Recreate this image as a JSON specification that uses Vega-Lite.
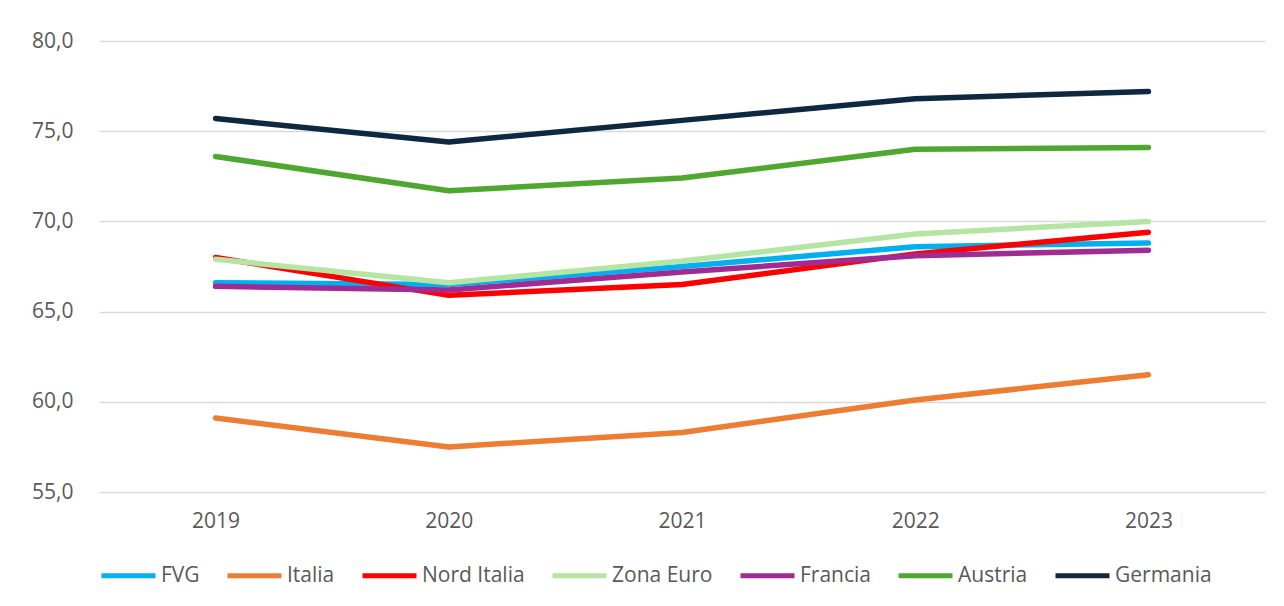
{
  "$schema": "https://vega.github.io/schema/vega-lite/v6.json",
  "width": 1166,
  "height": 451,
  "autosize": {"type": "none"},
  "padding": {"left": 99, "top": 41, "right": 19, "bottom": 114},
  "background": "white",
  "config": {
    "view": {"stroke": null},
    "font": "Open Sans",
    "axis": {"labelFont": "Open Sans", "labelColor": "#595959", "labelFontSize": 21},
    "legend": {"labelFont": "Open Sans", "labelColor": "#595959", "labelFontSize": 21}
  },
  "data": {
    "values": [
      {"anno": "2019", "serie": "FVG", "valore": 66.6},
      {"anno": "2020", "serie": "FVG", "valore": 66.5},
      {"anno": "2021", "serie": "FVG", "valore": 67.5},
      {"anno": "2022", "serie": "FVG", "valore": 68.6},
      {"anno": "2023", "serie": "FVG", "valore": 68.8},
      {"anno": "2019", "serie": "Italia", "valore": 59.1},
      {"anno": "2020", "serie": "Italia", "valore": 57.5},
      {"anno": "2021", "serie": "Italia", "valore": 58.3},
      {"anno": "2022", "serie": "Italia", "valore": 60.1},
      {"anno": "2023", "serie": "Italia", "valore": 61.5},
      {"anno": "2019", "serie": "Nord Italia", "valore": 68.0},
      {"anno": "2020", "serie": "Nord Italia", "valore": 65.9},
      {"anno": "2021", "serie": "Nord Italia", "valore": 66.5},
      {"anno": "2022", "serie": "Nord Italia", "valore": 68.2},
      {"anno": "2023", "serie": "Nord Italia", "valore": 69.4},
      {"anno": "2019", "serie": "Zona Euro", "valore": 67.9},
      {"anno": "2020", "serie": "Zona Euro", "valore": 66.6},
      {"anno": "2021", "serie": "Zona Euro", "valore": 67.8},
      {"anno": "2022", "serie": "Zona Euro", "valore": 69.3},
      {"anno": "2023", "serie": "Zona Euro", "valore": 70.0},
      {"anno": "2019", "serie": "Francia", "valore": 66.4},
      {"anno": "2020", "serie": "Francia", "valore": 66.2},
      {"anno": "2021", "serie": "Francia", "valore": 67.2},
      {"anno": "2022", "serie": "Francia", "valore": 68.1},
      {"anno": "2023", "serie": "Francia", "valore": 68.4},
      {"anno": "2019", "serie": "Austria", "valore": 73.6},
      {"anno": "2020", "serie": "Austria", "valore": 71.7},
      {"anno": "2021", "serie": "Austria", "valore": 72.4},
      {"anno": "2022", "serie": "Austria", "valore": 74.0},
      {"anno": "2023", "serie": "Austria", "valore": 74.1},
      {"anno": "2019", "serie": "Germania", "valore": 75.7},
      {"anno": "2020", "serie": "Germania", "valore": 74.4},
      {"anno": "2021", "serie": "Germania", "valore": 75.6},
      {"anno": "2022", "serie": "Germania", "valore": 76.8},
      {"anno": "2023", "serie": "Germania", "valore": 77.2}
    ]
  },
  "mark": {"type": "line", "strokeWidth": 5.5, "strokeCap": "round", "strokeJoin": "round"},
  "encoding": {
    "x": {
      "field": "anno",
      "type": "ordinal",
      "scale": {"type": "point", "padding": 0.5},
      "axis": {"title": null, "domain": false, "ticks": false, "grid": false, "labelAngle": 0, "labelPadding": 18}
    },
    "y": {
      "field": "valore",
      "type": "quantitative",
      "scale": {"domain": [55, 80], "nice": false, "zero": false},
      "axis": {
        "title": null, "domain": false, "ticks": false,
        "values": [55, 60, 65, 70, 75, 80],
        "gridColor": "#d9d9d9", "gridWidth": 1.5,
        "labelPadding": 26,
        "labelExpr": "replace(format(datum.value, '.1f'), '.', ',')"
      }
    },
    "color": {
      "field": "serie",
      "type": "nominal",
      "sort": ["FVG", "Italia", "Nord Italia", "Zona Euro", "Francia", "Austria", "Germania"],
      "scale": {
        "domain": ["FVG", "Italia", "Nord Italia", "Zona Euro", "Francia", "Austria", "Germania"],
        "range": ["#00B0F0", "#ED7D31", "#FF0000", "#B4E5A2", "#A02B93", "#4EA72E", "#0E2841"]
      },
      "legend": {
        "title": null,
        "orient": "bottom",
        "direction": "horizontal",
        "columns": 7,
        "symbolType": "stroke",
        "symbolSize": 2916,
        "symbolStrokeWidth": 5,
        "labelOffset": 3,
        "columnPadding": 17,
        "offset": 15
      }
    },
    "order": {"field": "anno"}
  }
}
